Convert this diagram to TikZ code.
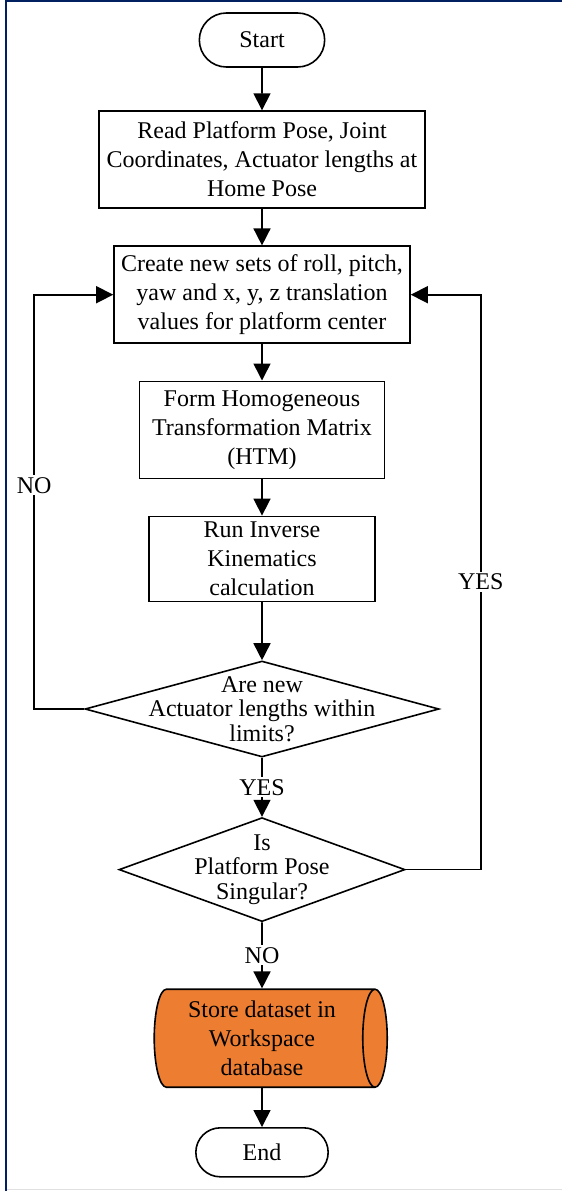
\documentclass[tikz,border=0pt]{standalone}
\usepackage{fontspec}
\setmainfont{Liberation Serif}
\usetikzlibrary{arrows.meta,positioning,shapes.geometric,shapes.misc}
\definecolor{framenavy}{RGB}{0,32,96}
\definecolor{storeorange}{RGB}{237,125,49}

\begin{document}
\begin{tikzpicture}[x=1pt,y=1pt,line width=1.6pt,
  every node/.style={font=\fontsize{24}{29}\selectfont},
  terminal/.style={draw,rounded rectangle,minimum width=132pt,minimum height=54pt},
  process/.style={draw,rectangle,align=center,inner xsep=2pt,minimum height=97pt},
  decision/.style={draw,diamond,inner sep=0pt},
  store/.style={draw,cylinder,shape border rotate=0,shape aspect=0.3,fill=storeorange,
    align=center,minimum width=98pt,minimum height=233pt},
  asktext/.style={align=center,font=\fontsize{24}{24.5}\selectfont},
  arr/.style={-{Triangle[width=17pt,length=17pt]}},
  tag/.style={fill=white,inner sep=2pt}]
\useasboundingbox (0,0) rectangle (562,-1191);
% frame
\draw[framenavy,line width=2.4pt] (6,-1.2) -- (562,-1.2);
\draw[framenavy,line width=2pt] (6,0) -- (6,-1191);
\draw[black!12,line width=1pt] (7,-1189.5) -- (562,-1189.5);

\node[terminal] (start) at (262,-40) {Start};
\node[process,minimum width=326pt] (box1) [below=42.5pt of start]
  {Read Platform Pose, Joint\\Coordinates, Actuator lengths at\\Home Pose};
\node[process,minimum width=296pt] (box2) [below=36.5pt of box1]
  {Create new sets of roll, pitch,\\yaw and x, y, z translation\\values for platform center};
\node[process,minimum width=245pt] (box3) [below=36.5pt of box2]
  {Form Homogeneous\\Transformation Matrix\\(HTM)};
\node[process,minimum width=226pt,minimum height=85pt] (box4) [below=36.5pt of box3]
  {Run Inverse\\Kinematics\\calculation};
\node[decision,minimum width=354pt,minimum height=96pt] (dia1) [below=58pt of box4] {};
\node[asktext] (dia1txt) at (dia1) {Are new\\Actuator lengths within\\limits?};
\node[decision,minimum width=286pt,minimum height=104pt] (dia2) [below=59pt of dia1] {};
\node[asktext] (dia2txt) at (dia2) {Is\\Platform Pose\\Singular?};
\node[store] (cyl) [below=66pt of dia2] {Store dataset in\\Workspace\\database};
\node[terminal,minimum width=139pt,minimum height=49pt] (end) [below=39pt of cyl] {End};

\draw[arr] (start) -- (box1);
\draw[arr] (box1) -- (box2);
\draw[arr] (box2) -- (box3);
\draw[arr] (box3) -- (box4);
\draw[arr] (box4) -- (dia1);
\draw[arr] (dia1) -- node[tag] (yes1) {YES} (dia2);
\draw[arr] (dia2) -- node[tag] (no2) {NO} (cyl);
\draw[arr] (cyl) -- (end);
\coordinate[left=50pt of dia1.west] (noturn);
\draw[arr] (dia1.west) -- (noturn) |- node[tag,pos=0.27] (no1) {NO} (box2.west);
\coordinate[right=75pt of dia2.east] (yesturn);
\draw[arr] (dia2.east) -- (yesturn) |- node[tag,pos=0.25] (yes2) {YES} (box2.east);
\end{tikzpicture}
\end{document}
